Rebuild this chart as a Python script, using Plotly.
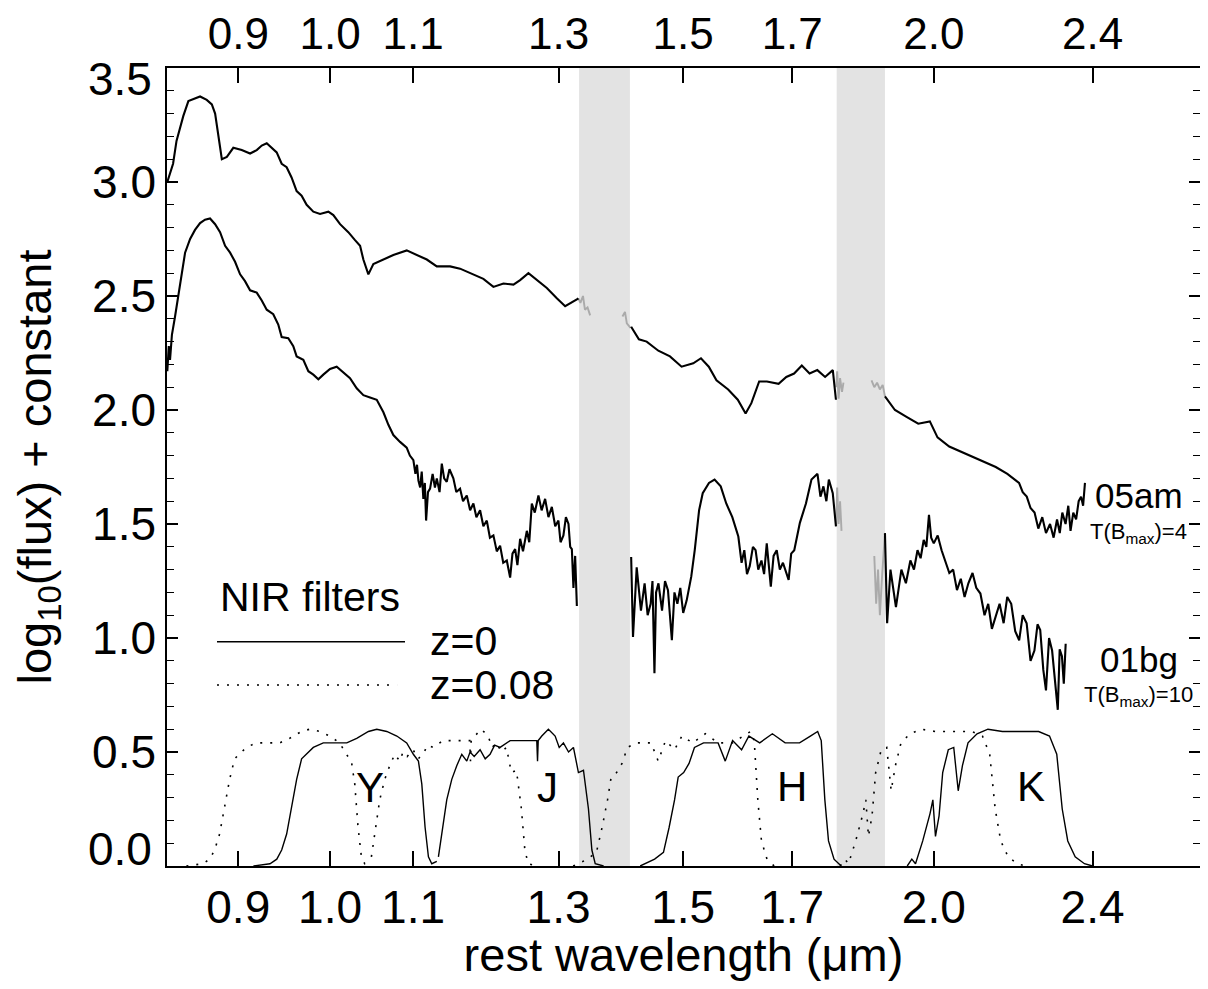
import numpy as np
import plotly.graph_objects as go

# ---------------- data ----------------
tick_vals = [0.9, 1.0, 1.1, 1.3, 1.5, 1.7, 2.0, 2.4]
tick_text = ["0.9", "1.0", "1.1", "1.3", "1.5", "1.7", "2.0", "2.4"]
y_tick_vals = [0.5, 1.0, 1.5, 2.0, 2.5, 3.0]
y_tick_text = ["0.5", "1.0", "1.5", "2.0", "2.5", "3.0"]
y_edge_vals = [0.0, 3.5]
y_edge_text = ["0.0", "3.5"]
x_range_um = [0.8293, 2.715]
y_range = [0.0, 3.5]
telluric_bands = [(1.331, 1.411), (1.789, 1.891)]
z_shifted = 0.08

# SN 2005am, black parts (None = gap)
am_wave = [0.8296, 0.8351, 0.8384, 0.8450, 0.8499, 0.8548, 0.8614, 0.8680, 0.8731, 0.8764,
           0.8797, 0.8832, 0.8883, 0.8949, 0.9036, 0.9123, 0.9193, 0.9246, 0.9299, 0.9352,
           0.9406, 0.9460, 0.9514, 0.9568, 0.9624, 0.9679, 0.9735, 0.9810, 0.9886, 0.9981,
           1.0038, 1.0116, 1.0212, 1.0291, 1.0351, 1.0390, 1.0450, 1.0510, 1.0632, 1.0754,
           1.0920, 1.1047, 1.1175, 1.1304, 1.1478, 1.1610, 1.1789, 1.1925, 1.2063, 1.2203,
           1.2344, 1.2439, 1.2558, 1.2679, 1.2826, 1.2974, 1.3099, 1.3276, 1.3300,
           None,
           1.4130, 1.4256, 1.4384, 1.4578, 1.4774, 1.4972, 1.5174, 1.5309, 1.5447, 1.5584,
           1.5795, 1.5970, 1.6114, 1.6221, 1.6367, 1.6513, 1.6736, 1.6885, 1.7037, 1.7188,
           1.7342, 1.7497, 1.7654, 1.7811, 1.7875,
           None,
           1.8910, 1.9128, 1.9384, 1.9646, 1.9910, 2.0086, 2.0358, 2.0724, 2.1096, 2.1475,
           2.1763, 2.2057, 2.2150, 2.2253, 2.2350, 2.2453, 2.2550, 2.2653, 2.2750, 2.2856,
           2.2950, 2.3040, 2.3113, 2.3180, 2.3267, 2.3340, 2.3400, 2.3474, 2.3550, 2.3620,
           2.3685, 2.3740, 2.3791]
am_flux = [3.00, 3.08, 3.18, 3.29, 3.355, 3.365, 3.375, 3.36, 3.34, 3.30,
           3.21, 3.10, 3.11, 3.15, 3.14, 3.125, 3.14, 3.16, 3.17, 3.15,
           3.13, 3.08, 3.065, 3.02, 2.96, 2.94, 2.90, 2.87, 2.86, 2.87,
           2.855, 2.815, 2.78, 2.745, 2.72, 2.66, 2.595, 2.64, 2.66, 2.68,
           2.70, 2.68, 2.66, 2.63, 2.63, 2.62, 2.595, 2.575, 2.54, 2.555,
           2.55, 2.57, 2.60, 2.57, 2.535, 2.49, 2.455, 2.485, 2.49,
           None,
           2.365, 2.31, 2.30, 2.26, 2.235, 2.19, 2.205, 2.227, 2.19, 2.13,
           2.09, 2.045, 1.985, 2.03, 2.125, 2.125, 2.115, 2.145, 2.16, 2.195,
           2.16, 2.175, 2.145, 2.175, 2.045,
           None,
           2.06, 2.00, 1.97, 1.94, 1.95, 1.88, 1.84, 1.81, 1.78, 1.75,
           1.72, 1.68, 1.64, 1.62, 1.57, 1.55, 1.48, 1.53, 1.46, 1.50,
           1.44, 1.52, 1.46, 1.55, 1.50, 1.58, 1.47, 1.55, 1.52, 1.60,
           1.62, 1.58, 1.68]

# SN 2005am, grey parts inside the telluric bands
am_grey_wave = [1.330, 1.333, 1.337, 1.340, 1.344, 1.348, None,
                1.399, 1.403, 1.406, 1.409, 1.412, None,
                1.788, 1.790, 1.793, 1.796, 1.800, 1.803, None,
                1.862, 1.868, 1.874, 1.880, 1.886, 1.891]
am_grey_flux = [2.49, 2.47, 2.50, 2.44, 2.45, 2.415, None,
                2.41, 2.43, 2.38, 2.37, 2.36, None,
                2.10, 2.17, 2.05, 2.14, 2.08, 2.12, None,
                2.13, 2.10, 2.12, 2.09, 2.11, 2.06]

# SN 2001bg, black parts
bg_wave = [0.8296, 0.8310, 0.8322, 0.8340, 0.8370, 0.8418, 0.8467, 0.8516, 0.8564, 0.8614,
           0.8663, 0.8713, 0.8764, 0.8814, 0.8865, 0.8916, 0.8967, 0.9019, 0.9070, 0.9123,
           0.9193, 0.9246, 0.9299, 0.9369, 0.9423, 0.9460, 0.9532, 0.9587, 0.9624, 0.9698,
           0.9754, 0.9810, 0.9867, 0.9923, 1.0000, 1.0077, 1.0154, 1.0232, 1.0311, 1.0390,
           1.0470, 1.0551, 1.0632, 1.0693, 1.0754, 1.0837, 1.0920, 1.0960, 1.1004, 1.1030,
           1.1050, 1.1068, 1.1090, 1.1110, 1.1131, 1.1150, 1.1166, 1.1190, 1.1217, 1.1250,
           1.1280, 1.1304, 1.1340, 1.1369, 1.1400, 1.1434, 1.1470, 1.1521, 1.1560, 1.1610,
           1.1650, 1.1700, 1.1745, 1.1789, 1.1830, 1.1880, 1.1925, 1.1972, 1.2015, 1.2063,
           1.2110, 1.2156, 1.2200, 1.2250, 1.2297, 1.2330, 1.2368, 1.2400, 1.2439, 1.2480,
           1.2535, 1.2570, 1.2607, 1.2650, 1.2703, 1.2750, 1.2801, 1.2850, 1.2900, 1.2950,
           1.2998, 1.3030, 1.3073, 1.3110, 1.3149, 1.3175, 1.3200, 1.3224, 1.3250, 1.3276,
           None,
           1.4130, 1.4160, 1.4220, 1.4290, 1.4350, 1.4400, 1.4450, 1.4480, 1.4513, 1.4540,
           1.4580, 1.4640, 1.4690, 1.4740, 1.4806, 1.4850, 1.4900, 1.4950, 1.5000, 1.5060,
           1.5140, 1.5200, 1.5276, 1.5340, 1.5450, 1.5550, 1.5660, 1.5760, 1.5870, 1.5980,
           1.6040, 1.6090, 1.6140, 1.6190, 1.6250, 1.6300, 1.6350, 1.6410, 1.6460, 1.6510,
           1.6587, 1.6640, 1.6700, 1.6760, 1.6820, 1.6930, 1.6980, 1.7040, 1.7150, 1.7270,
           1.7380, 1.7500, 1.7560, 1.7620, 1.7680, 1.7730, 1.7810, 1.7875,
           None,
           1.8910, 1.8957, 1.9030, 1.9150, 1.9270, 1.9370, 1.9470, 1.9550, 1.9630, 1.9700,
           1.9770, 1.9830, 1.9890, 1.9940, 2.0000, 2.0090, 2.0180, 2.0270, 2.0360, 2.0450,
           2.0540, 2.0630, 2.0720, 2.0810, 2.0910, 2.1000, 2.1100, 2.1200, 2.1290, 2.1380,
           2.1470, 2.1570, 2.1670, 2.1760, 2.1860, 2.1960, 2.2060, 2.2150, 2.2250, 2.2350,
           2.2450, 2.2530, 2.2600, 2.2680, 2.2750, 2.2830, 2.2910, 2.2990, 2.3060, 2.3110,
           2.3170, 2.3220, 2.3270]
bg_flux = [2.17, 2.28, 2.22, 2.33, 2.41, 2.56, 2.69, 2.75, 2.79, 2.82,
           2.835, 2.84, 2.815, 2.78, 2.72, 2.69, 2.65, 2.595, 2.565, 2.525,
           2.515, 2.48, 2.44, 2.42, 2.375, 2.32, 2.315, 2.28, 2.235, 2.22,
           2.17, 2.155, 2.135, 2.155, 2.18, 2.19, 2.165, 2.14, 2.095, 2.065,
           2.055, 2.045, 1.99, 1.935, 1.89, 1.86, 1.835, 1.80, 1.78, 1.72,
           1.76, 1.69, 1.66, 1.73, 1.61, 1.68, 1.515, 1.64, 1.655, 1.72,
           1.66, 1.70, 1.64, 1.765, 1.70, 1.685, 1.74, 1.70, 1.64, 1.655,
           1.60, 1.625, 1.56, 1.59, 1.53, 1.56, 1.49, 1.515, 1.44, 1.45,
           1.38, 1.405, 1.33, 1.34, 1.265, 1.37, 1.39, 1.32, 1.435, 1.38,
           1.47, 1.42, 1.59, 1.55, 1.625, 1.56, 1.61, 1.53, 1.575, 1.49,
           1.515, 1.42, 1.45, 1.53, 1.50, 1.40, 1.39, 1.22, 1.36, 1.14,
           None,
           1.355, 1.005, 1.31, 1.12, 1.24, 1.10, 1.15, 1.25, 0.845, 1.20,
           1.24, 1.12, 1.25, 1.21, 0.99, 1.20, 1.15, 1.22, 1.11, 1.165,
           1.27, 1.385, 1.56, 1.635, 1.68, 1.695, 1.665, 1.59, 1.53, 1.445,
           1.33, 1.385, 1.28, 1.315, 1.40, 1.385, 1.30, 1.34, 1.28, 1.415,
           1.225, 1.36, 1.385, 1.30, 1.33, 1.255, 1.37, 1.385, 1.505, 1.59,
           1.695, 1.72, 1.62, 1.665, 1.60, 1.695, 1.635, 1.49,
           None,
           1.46, 1.065, 1.30, 1.135, 1.30, 1.24, 1.34, 1.30, 1.385, 1.35,
           1.43, 1.40, 1.54, 1.44, 1.415, 1.45, 1.385, 1.33, 1.285, 1.30,
           1.21, 1.26, 1.18, 1.24, 1.285, 1.22, 1.195, 1.10, 1.15, 1.04,
           1.095, 1.15, 1.065, 1.18, 1.15, 1.03, 0.99, 1.10, 1.065, 0.90,
           0.945, 1.06, 1.035, 0.86, 0.77, 1.00, 0.945, 0.80, 0.685, 0.95,
           0.92, 0.80, 0.975]

bg_grey_wave = [1.788, 1.790, 1.793, 1.796, 1.799, None,
                1.868, 1.872, 1.876, 1.880, 1.885, 1.891]
bg_grey_flux = [1.49, 1.66, 1.50, 1.60, 1.47, None,
                1.36, 1.15, 1.30, 1.10, 1.28, 1.46]

# NIR filter transmission curves at z = 0 (rest frame)
filt_Y_wave = [0.9158, 0.9334, 0.9407, 0.9460, 0.9514, 0.9568, 0.9624, 0.9679, 0.9735, 0.9810,
               0.9923, 1.0038, 1.0194, 1.0311, 1.0451, 1.0551, 1.0673, 1.0797, 1.0920, 1.1004,
               1.1068, 1.1111, 1.1153, 1.1196, 1.1239, 1.1304]
filt_Y_trans = [0.00, 0.01, 0.03, 0.07, 0.14, 0.26, 0.38, 0.47, 0.49, 0.52,
                0.54, 0.54, 0.54, 0.56, 0.59, 0.60, 0.59, 0.57, 0.54, 0.49,
                0.46, 0.36, 0.17, 0.04, 0.01, 0.02]
filt_J_wave = [1.1325, 1.1369, 1.1434, 1.1500, 1.1566, 1.1633, 1.1700, 1.1744, 1.1800, 1.1880,
               1.1950, 1.2017, 1.2080, 1.2156, 1.2297, 1.2439, 1.2582, 1.2679, 1.2690, 1.2700,
               1.2752, 1.2849, 1.2949, 1.3010, 1.3073, 1.3150, 1.3224, 1.3300, 1.3377, 1.3454,
               1.3507, 1.3559, 1.3690]
filt_J_trans = [0.04, 0.14, 0.29, 0.38, 0.44, 0.49, 0.46, 0.50, 0.48, 0.51,
                0.47, 0.49, 0.53, 0.52, 0.55, 0.55, 0.55, 0.55, 0.46, 0.55,
                0.57, 0.60, 0.57, 0.52, 0.54, 0.50, 0.52, 0.41, 0.42, 0.25,
                0.07, 0.01, 0.00]
filt_H_wave = [1.4277, 1.4516, 1.4664, 1.4760, 1.4852, 1.4914, 1.5008, 1.5101, 1.5195, 1.5355,
               1.5482, 1.5613, 1.5742, 1.5875, 1.6040, 1.6175, 1.6377, 1.6617, 1.6862, 1.7144,
               1.7358, 1.7504, 1.7576, 1.7649, 1.7723, 1.7836, 1.7983]
filt_H_trans = [0.00, 0.03, 0.06, 0.17, 0.29, 0.39, 0.41, 0.45, 0.52, 0.54,
                0.54, 0.54, 0.46, 0.55, 0.51, 0.57, 0.54, 0.58, 0.54, 0.54,
                0.57, 0.59, 0.55, 0.29, 0.11, 0.03, 0.00]
filt_K_wave = [1.9400, 1.9502, 1.9585, 1.9748, 1.9914, 1.9979, 2.0039, 2.0122, 2.0206, 2.0336,
               2.0464, 2.0569, 2.0669, 2.0802, 2.1019, 2.1283, 2.1641, 2.2095, 2.2559, 2.2842,
               2.3033, 2.3178, 2.3326, 2.3525, 2.3777, 2.4000]
filt_K_trans = [0.00, 0.03, 0.01, 0.11, 0.23, 0.29, 0.13, 0.22, 0.41, 0.51,
                0.52, 0.33, 0.44, 0.54, 0.58, 0.60, 0.59, 0.59, 0.59, 0.57,
                0.49, 0.25, 0.11, 0.04, 0.01, 0.00]

filter_names = ["Y", "J", "H", "K"]
filter_label_wave = [1.0464, 1.2843, 1.6995, 2.2363]
filter_label_level = [0.346, 0.346, 0.35, 0.35]

sn_names = ["05am", "01bg"]
sn_phase = ["T(B<sub>max</sub>)=4", "T(B<sub>max</sub>)=10"]
sn_label_wave = 2.531
sn_name_level = [1.627, 0.904]
sn_phase_level = [1.46, 0.745]

# ---------------- figure ----------------
FONT = "Liberation Sans, Arial, Helvetica, sans-serif"
BLACK = "#000000"
GREY = "#aaaaaa"
BAND = "#e3e3e3"
DOTS = "2px,8px"
TICK_FONT = dict(size=46, color=BLACK, family=FONT)
TOP_TICK_FONT = dict(size=44, color=BLACK, family=FONT)

fig = go.Figure()

filters = [(filt_Y_wave, filt_Y_trans), (filt_J_wave, filt_J_trans),
           (filt_H_wave, filt_H_trans), (filt_K_wave, filt_K_trans)]

# z = 0 filters (base axes)
for w, t in filters:
    fig.add_trace(go.Scatter(x=w, y=t, mode="lines",
                             line=dict(color=BLACK, width=1.4),
                             showlegend=False, hoverinfo="skip"))
# spectra
for w, f in [(am_grey_wave, am_grey_flux), (bg_grey_wave, bg_grey_flux)]:
    fig.add_trace(go.Scatter(x=w, y=f, mode="lines", connectgaps=False,
                             line=dict(color=GREY, width=1.9),
                             showlegend=False, hoverinfo="skip"))
for w, f in [(am_wave, am_flux), (bg_wave, bg_flux)]:
    fig.add_trace(go.Scatter(x=w, y=f, mode="lines", connectgaps=False,
                             line=dict(color=BLACK, width=2.1),
                             showlegend=False, hoverinfo="skip"))
# redshifted (z=0.08) filters, rest wavelength = observed / (1+z); drawn on the
# mirrored top/right axes so that those axes are rendered
for w, t in filters:
    fig.add_trace(go.Scatter(x=[v / (1 + z_shifted) for v in w], y=t, mode="lines",
                             xaxis="x2", yaxis="y2",
                             line=dict(color=BLACK, width=1.6, dash=DOTS),
                             showlegend=False, hoverinfo="skip"))

shapes = []
for b0, b1 in telluric_bands:
    shapes.append(dict(type="rect", xref="x", yref="paper", x0=b0, x1=b1, y0=0, y1=1,
                       fillcolor=BAND, line=dict(width=0), layer="below"))
# legend sample lines
shapes.append(dict(type="line", xref="paper", yref="paper", x0=0.0484, x1=0.2304,
                   y0=0.2811, y1=0.2811, line=dict(color=BLACK, width=1.5)))
shapes.append(dict(type="line", xref="paper", yref="paper", x0=0.0484, x1=0.2227,
                   y0=0.2268, y1=0.2268, line=dict(color=BLACK, width=1.6, dash=DOTS)))

annotations = []
for name, wl, lv in zip(filter_names, filter_label_wave, filter_label_level):
    annotations.append(dict(x=np.log10(wl), y=lv, xref="x", yref="y", text=name,
                            showarrow=False, font=dict(size=42, color=BLACK, family=FONT)))
for name, ph, ln, lp in zip(sn_names, sn_phase, sn_name_level, sn_phase_level):
    annotations.append(dict(x=np.log10(sn_label_wave), y=ln, xref="x", yref="y", text=name,
                            showarrow=False, font=dict(size=35, color=BLACK, family=FONT)))
    annotations.append(dict(x=np.log10(sn_label_wave), y=lp, xref="x", yref="y", text=ph,
                            showarrow=False, font=dict(size=22, color=BLACK, family=FONT)))
annotations.append(dict(x=0.0494, y=0.3371, xref="paper", yref="paper", text="NIR filters",
                        xanchor="left", yanchor="middle", showarrow=False,
                        font=dict(size=41, color=BLACK, family=FONT)))
annotations.append(dict(x=0.2527, y=0.2820, xref="paper", yref="paper", text="z=0",
                        xanchor="left", yanchor="middle", showarrow=False,
                        font=dict(size=41, color=BLACK, family=FONT)))
annotations.append(dict(x=0.2527, y=0.2268, xref="paper", yref="paper", text="z=0.08",
                        xanchor="left", yanchor="middle", showarrow=False,
                        font=dict(size=41, color=BLACK, family=FONT)))
# the two y labels sitting on the frame corners are nudged inwards, as in the original
for val, txt, shift in zip(y_edge_vals, y_edge_text, [17, -11]):
    annotations.append(dict(x=0, y=val, xref="paper", yref="y", text=txt,
                            xanchor="right", yanchor="middle", xshift=-13, yshift=shift,
                            showarrow=False, font=TICK_FONT))

xr = [np.log10(x_range_um[0]), np.log10(x_range_um[1])]
x_common = dict(type="log", range=xr, tickmode="array", tickvals=tick_vals,
                ticktext=tick_text, ticks="inside", ticklen=15, tickwidth=1.5,
                tickcolor=BLACK, showline=True, linecolor=BLACK, linewidth=1.5,
                showgrid=False, zeroline=False, automargin=False)
y_common = dict(range=y_range, tickmode="array", tickvals=y_tick_vals, ticktext=y_tick_text,
                ticks="inside", ticklen=11, tickwidth=1.5, tickcolor=BLACK,
                minor=dict(tickmode="linear", ticks="inside", ticklen=7, dtick=0.1, tick0=0,
                           tickcolor=BLACK, tickwidth=1.2),
                showgrid=False, zeroline=False, automargin=False, tickfont=TICK_FONT)

# the page adds an 8 px body margin, so the figure is 16 px smaller than the window
fig.update_layout(
    width=1192, height=973,
    margin=dict(l=159, r=0, t=60, b=115, autoexpand=False),
    paper_bgcolor="white", plot_bgcolor="white",
    font=dict(family=FONT, color=BLACK),
    shapes=shapes, annotations=annotations,
    xaxis=dict(**x_common, side="bottom", anchor="y", tickfont=TICK_FONT,
               title=dict(text="rest wavelength (\u03bcm)", standoff=0,
                          font=dict(size=47, color=BLACK, family=FONT))),
    xaxis2=dict(**x_common, side="top", overlaying="x", anchor="y2",
                tickfont=TOP_TICK_FONT),
    yaxis=dict(**y_common, side="left", anchor="x", showline=True,
               linecolor=BLACK, linewidth=1.5,
               title=dict(text="log<sub>10</sub>(flux) + constant", standoff=26,
                          font=dict(size=47, color=BLACK, family=FONT))),
    yaxis2=dict(**y_common, side="right", overlaying="y", anchor="x2",
                showline=False, showticklabels=False),
)

fig.write_html("out.html")
